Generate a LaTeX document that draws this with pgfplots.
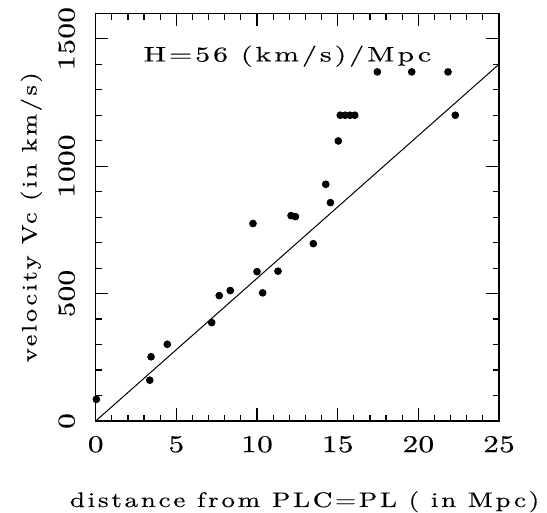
\documentclass[border=0pt]{standalone}
\usepackage{fontspec}
\usepackage{graphicx}
\usepackage{pgfplots}
\pgfplotsset{compat=1.18}
\newfontfamily\labfont{lmroman10-regular.otf}[LetterSpace=10, FakeBold=0.3]
\newfontfamily\tickfont{lmroman10-regular.otf}[LetterSpace=1, FakeBold=0.3]
\newcommand{\labsize}{\labfont\fontsize{10.5}{12}\selectfont}
\newcommand{\tk}[1]{\scalebox{1.3}[1]{\tickfont\fontsize{12}{14}\selectfont #1}}
\begin{document}
\begin{tikzpicture}
\begin{axis}[
  scale only axis, width=201.65pt, height=203.85pt,
  xmin=0, xmax=25, ymin=0, ymax=1600,
  xtick={0,5,10,15,20,25}, ytick={0,500,1000,1500},
  minor x tick num=4, minor y tick num=4,
  tick align=inside,
  major tick length=6.25pt, minor tick length=3.2pt,
  every tick/.style={black, line width=0.6pt},
  axis line style={line width=0.65pt},
  /pgf/number format/assume math mode=true,
  /pgf/number format/1000 sep={},
  scaled ticks=false,
  xticklabel={\tk{\pgfmathprintnumber{\tick}}},
  yticklabel={\tk{\pgfmathprintnumber{\tick}}},
  xticklabel style={yshift=-4pt},
  yticklabel style={xshift=-6.85pt, rotate=90, anchor=south},
  clip=false,
]
\addplot[black, line width=0.5pt, no marks] coordinates {(0,0) (25,1400)};
\addplot[only marks, mark=*, mark size=1.7pt, black] table {
x y
0.04 85
3.43 252
3.35 160
4.44 301
7.19 386
7.66 492
8.34 512
9.75 775
10.00 586
10.35 503
11.30 588
12.11 806
12.38 802
13.49 696
14.26 929
14.55 857
15.04 1099
15.16 1200
15.46 1200
15.76 1200
16.06 1200
17.46 1370
19.59 1370
21.84 1370
22.29 1200
};
\node[anchor=base west, inner sep=0pt] at (axis cs:2.95,1411) {\scalebox{1.42}[1]{\labsize H=56 (km/s)/Mpc}};
\node[anchor=base, inner sep=0pt] at ([yshift=-43pt]rel axis cs:0.518,0) {\scalebox{1.29}[1]{\labsize distance from PLC=PL ( in Mpc)}};
\node[rotate=90, anchor=base, inner sep=0pt] at ([xshift=-29.6pt]rel axis cs:0,0.5) {\scalebox{1.25}[1]{\labsize velocity Vc (in km/s)}};
\end{axis}
\path (current axis.south west) ++(-47.85pt,-46pt) rectangle ++(273.5pt,256.5pt);
\end{tikzpicture}
\end{document}
